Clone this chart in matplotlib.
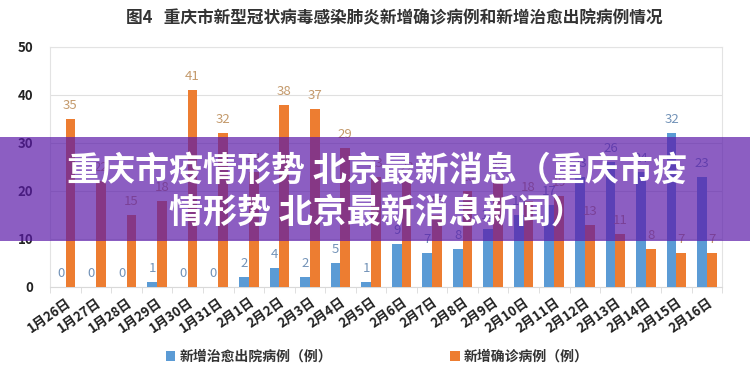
import matplotlib.pyplot as plt
import numpy as np
from matplotlib.patches import Rectangle

plt.rcParams['font.family'] = ['Noto Sans CJK SC', 'DejaVu Sans']

dates = ["1月26日", "1月27日", "1月28日", "1月29日", "1月30日", "1月31日",
         "2月1日", "2月2日", "2月3日", "2月4日", "2月5日", "2月6日", "2月7日",
         "2月8日", "2月9日", "2月10日", "2月11日", "2月12日", "2月13日",
         "2月14日", "2月15日", "2月16日"]
discharged = [0, 0, 0, 1, 0, 0, 2, 4, 2, 5, 1, 9, 7, 8, 12, 15, 17, 23, 26, 24, 32, 23]
confirmed = [35, 22, 15, 18, 41, 32, 24, 38, 37, 29, 23, 22, 15, 20, 22, 18, 19, 13, 11, 8, 7, 7]

title = "图4   重庆市新型冠状病毒感染肺炎新增确诊病例和新增治愈出院病例情况"
banner = "重庆市疫情形势 北京最新消息（重庆市疫\n情形势 北京最新消息新闻）"

blue = "#5B9BD5"
orange = "#ED7D31"

fig = plt.figure(figsize=(7.5, 3.79), dpi=100)
ax = fig.add_axes([0.067, 0.243, 0.896, 0.633])

x = np.arange(len(dates))
w = 0.32
b1 = ax.bar(x - w / 2, discharged, w, color=blue, label="新增治愈出院病例（例）", zorder=3)
b2 = ax.bar(x + w / 2, confirmed, w, color=orange, label="新增确诊病例（例）", zorder=3)
ax.bar_label(b1, padding=5, fontsize=9.5, color="#7393B8")
ax.bar_label(b2, padding=5, fontsize=9.5, color="#C49A6C")

ax.set_xlim(-0.5, len(dates) - 0.5)
ax.set_ylim(0, 50)
ax.set_yticks(range(0, 51, 10))
ax.tick_params(axis="y", length=0, labelsize=9.5, pad=12)
for t in ax.get_yticklabels():
    t.set_fontweight("bold")
    t.set_color("#222222")
ax.yaxis.grid(True, color="#E0E0E0", linewidth=0.8, zorder=0)

ax.set_xticks(x)
ax.set_xticklabels(dates, rotation=35, ha="right", rotation_mode="anchor",
                   fontsize=9.5, fontweight="bold", color="#222222")
ax.tick_params(axis="x", length=0, pad=6)
ax.set_xticks(np.arange(-0.5, len(dates)), minor=True)
ax.tick_params(axis="x", which="minor", length=4, color="#D9D9D9")

for s in ax.spines.values():
    s.set_color("#E3E3E3")
    s.set_linewidth(0.8)
ax.spines["bottom"].set_color("#D9D9D9")

fig.text(0.525, 0.952, title, ha="center", va="center", fontsize=12,
         fontweight="bold", color="#333333")

fig.legend(handles=[b1, b2], loc="center", bbox_to_anchor=(0.503, 0.058), ncol=2,
           frameon=False, columnspacing=8.5, handlelength=0.7, handleheight=0.7,
           handletextpad=0.3, prop={"size": 10, "weight": "bold"},
           labelcolor="#333333")

# purple caption band across the middle
fig.patches.append(Rectangle((0, 0.364), 1, 0.275, transform=fig.transFigure,
                             facecolor="#5B1AA9", alpha=0.7, edgecolor="none", zorder=10))
fig.text(0.503, 0.497, banner, ha="center", va="center", fontsize=24.5,
         fontweight="bold", color="white", linespacing=1.25, zorder=11)

fig.savefig("out.png", dpi=100)
